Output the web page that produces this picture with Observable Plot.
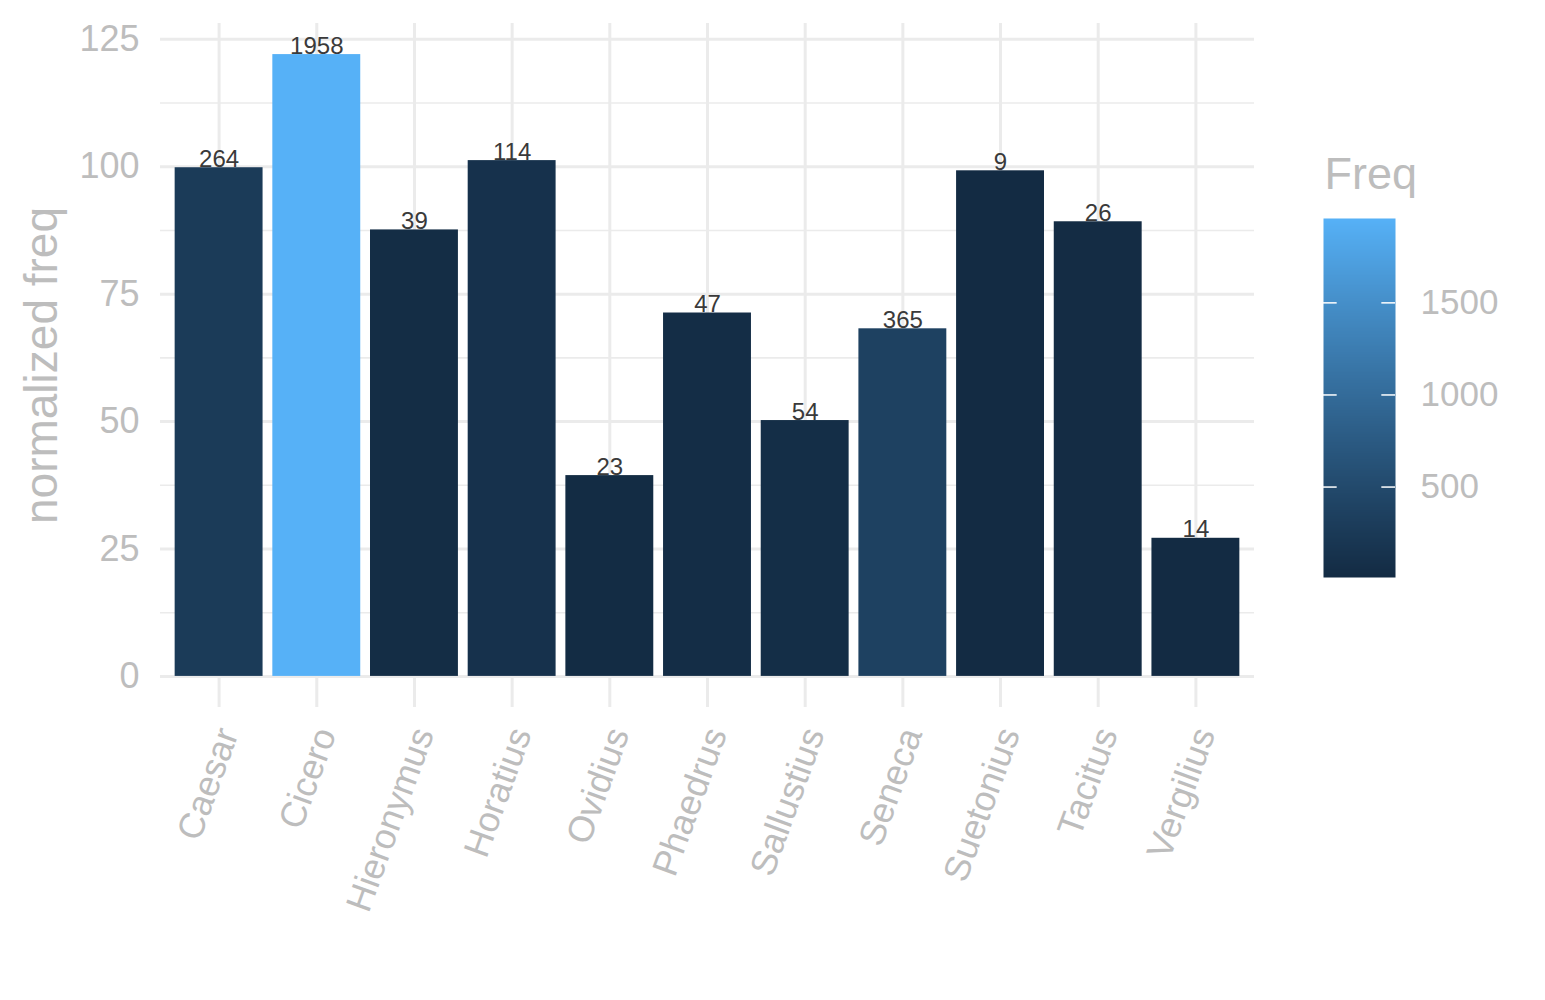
<!DOCTYPE html>
<html>
<head>
<meta charset="utf-8">
<script src="https://cdn.jsdelivr.net/npm/d3@7"></script>
<script src="https://cdn.jsdelivr.net/npm/@observablehq/plot@0.6"></script>
<style>
  html, body { margin: 0; padding: 0; background: #fff; }
  #wrap { position: relative; width: 1545px; height: 1000px; font-family: "Liberation Sans", Arial, Helvetica, sans-serif; }
  #main { position: absolute; left: 0; top: 0; }
  #legend { position: absolute; left: 1300px; top: 140px; }
</style>
</head>
<body>
<div id="wrap"><div id="main"></div><div id="legend"></div></div>
<script>
const authors = ["Caesar","Cicero","Hieronymus","Horatius","Ovidius","Phaedrus","Sallustius","Seneca","Suetonius","Tacitus","Vergilius"];
const normFreq = [99.8, 122.0, 87.6, 101.2, 39.4, 71.3, 50.2, 68.2, 99.2, 89.2, 27.1];
const freq = [264, 1958, 39, 114, 23, 47, 54, 365, 9, 26, 14];
const yTicks = [0, 25, 50, 75, 100, 125];
const yMinor = [12.5, 37.5, 62.5, 87.5, 112.5];
const legendTicks = [500, 1000, 1500];

const data = authors.map((a, i) => ({author: a, norm: normFreq[i], freq: freq[i]}));

const gridColor = "#EBEBEB";
const textGray = "#BDBDBD";
const colorScale = {type: "linear", domain: [d3.min(freq), d3.max(freq)], range: ["#132B43", "#56B1F7"], interpolate: "lab"};

const main = Plot.plot({
  width: 1290,
  height: 1000,
  marginLeft: 160,
  marginRight: 36,
  marginTop: 23,
  marginBottom: 293,
  style: {fontFamily: "Liberation Sans, Arial, Helvetica, sans-serif", background: "white"},
  x: {type: "band", domain: authors, paddingInner: 0.1, paddingOuter: 0.15, round: false},
  y: {domain: [-6.1, 128.1]},
  color: colorScale,
  marks: [
    Plot.ruleY(yMinor, {stroke: gridColor, strokeWidth: 1.6}),
    Plot.ruleY(yTicks, {stroke: gridColor, strokeWidth: 3}),
    Plot.ruleX(authors, {x: d => d, stroke: gridColor, strokeWidth: 3}),
    Plot.barY(data, {x: "author", y: "norm", fill: "freq"}),
    Plot.text(data, {x: "author", y: "norm", text: d => String(d.freq), lineAnchor: "bottom", dy: -1, fontSize: 24, fill: "#3a3a3a"}),
    Plot.axisY({ticks: yTicks, tickSize: 0, tickPadding: 21, fontSize: 36, color: textGray, label: null}),
    Plot.axisX({tickSize: 0, tickPadding: 22, tickRotate: -70, dx: 9, fontSize: 36, color: textGray, label: null}),
    Plot.text(["normalized freq"], {frameAnchor: "left", textAnchor: "middle", rotate: -90, dx: -118, fontSize: 46, fill: textGray})
  ]
});
document.getElementById("main").appendChild(main);

const legend = Plot.plot({
  width: 245,
  height: 460,
  margin: 0,
  style: {fontFamily: "Liberation Sans, Arial, Helvetica, sans-serif", background: "transparent", overflow: "visible"},
  x: {domain: [0, 1], range: [23, 95], axis: null},
  y: {domain: [d3.min(freq), d3.max(freq)], range: [437, 78], axis: null},
  color: colorScale,
  marks: [
    Plot.raster({x1: 0, x2: 1, y1: d3.min(freq), y2: d3.max(freq), width: 1, height: 400, fill: (x, y) => y}),
    Plot.ruleY(legendTicks, {x1: 0, x2: 0.19, stroke: "white", strokeWidth: 1.5}),
    Plot.ruleY(legendTicks, {x1: 0.81, x2: 1, stroke: "white", strokeWidth: 1.5}),
    Plot.text(legendTicks, {x: 1, y: d => d, text: d => String(d), dx: 25, textAnchor: "start", fontSize: 35, fill: textGray}),
    Plot.text(["Freq"], {frameAnchor: "top-left", dx: 24, dy: 17, textAnchor: "start", fontSize: 45, fill: textGray})
  ]
});
document.getElementById("legend").appendChild(legend);
</script>
</body>
</html>
